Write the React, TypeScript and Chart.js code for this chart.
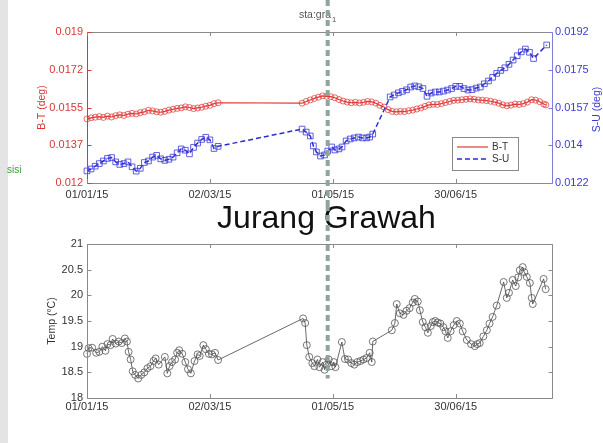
import React, { useEffect, useRef } from 'react';
import { Chart, registerables } from 'chart.js';

Chart.register(...registerables);

const FONT = '"Liberation Sans", Arial, Helvetica, sans-serif';

// ---------- axes / ticks ----------
const X_MAX = 227;
const X_TICK_DAYS = [0, 60, 120, 180];
const X_TICK_LABELS = ['01/01/15', '02/03/15', '01/05/15', '30/06/15'];
const MARKER_DAY = 117.5;
const MARKER_END_TEMP = 18.38;

const BT_MIN = 0.012;
const BT_MAX = 0.019;
const BT_TICKS = [0.012, 0.01375, 0.0155, 0.01725, 0.019];
const BT_TICK_LABELS = ['0.012', '0.0137', '0.0155', '0.0172', '0.019'];

const SU_MIN = 0.0122;
const SU_MAX = 0.0192;
const SU_TICKS = [0.0122, 0.01395, 0.0157, 0.01745, 0.0192];
const SU_TICK_LABELS = ['0.0122', '0.014', '0.0157', '0.0175', '0.0192'];

const TEMP_MIN = 18;
const TEMP_MAX = 21;
const TEMP_TICKS = [18, 18.5, 19, 19.5, 20, 20.5, 21];
const TEMP_TICK_LABELS = ['18', '18.5', '19', '19.5', '20', '20.5', '21'];

// ---------- series ----------
const BT_DAYS = [
  0, 2, 4, 6, 8, 10, 12, 14, 16, 18, 20, 22, 24, 26, 28, 30, 32, 34, 36, 38, 40, 42, 44, 46, 48, 50, 52, 54, 56, 58, 60, 62, 64,
  105, 107, 109, 111, 113, 115, 117, 119, 121, 123, 125, 127, 129, 131, 133, 135, 137, 139, 141, 143, 145, 147, 149, 151, 153,
  155, 157, 159, 161, 163, 165, 167, 169, 171, 173, 175, 177, 179, 181, 183, 185, 187, 189, 191, 193, 195, 197, 199, 201, 203,
  205, 207, 209, 211, 213, 215, 217, 219, 221, 223, 224,
];
const BT_VALUES = [
  0.01497, 0.01502, 0.01505, 0.01508, 0.01504, 0.0151, 0.01506, 0.01512, 0.01516, 0.01513, 0.01519, 0.01523, 0.0152, 0.01526,
  0.0153, 0.01537, 0.01534, 0.0153, 0.01528, 0.01532, 0.01538, 0.01542, 0.01546, 0.01548, 0.01553, 0.0155, 0.01545, 0.01548,
  0.01551, 0.01556, 0.0156, 0.01568, 0.01572,
  0.0157, 0.01578, 0.01585, 0.01592, 0.01598, 0.01604, 0.01602, 0.016, 0.01595, 0.01587, 0.0158, 0.01575, 0.01572, 0.01574,
  0.01571, 0.01574, 0.01578, 0.01576, 0.0157, 0.0156, 0.01552, 0.0154, 0.01532, 0.0153, 0.01532, 0.01531, 0.01535, 0.01538,
  0.01543, 0.01548, 0.01555, 0.01562, 0.01565, 0.01564, 0.01568, 0.01573, 0.01578, 0.01583, 0.01584, 0.01586, 0.01588,
  0.0159, 0.01588, 0.01585, 0.01584, 0.01582, 0.01579, 0.01575, 0.0157, 0.01562, 0.01558, 0.01561, 0.01566, 0.01564,
  0.01568, 0.01575, 0.01586, 0.01584, 0.01577, 0.01566, 0.01562,
];

const SU_DAYS = [
  0, 2, 4, 6, 8, 10, 12, 14, 16, 18, 20, 22, 24, 26, 28, 30, 32, 34, 36, 38, 40, 42, 44, 46, 48, 50, 52, 54, 56, 58, 60, 62, 64,
  105, 107, 109, 110.5, 112, 114, 116, 117.5, 119.5, 121, 123, 124.5, 126.5, 128.5, 130.5, 132.5, 134.5, 136.5, 138, 139.5,
  148, 150, 152, 154, 156, 158, 160, 162, 164, 166, 168, 170, 172, 174, 176, 178, 180, 182, 184, 186, 188, 190, 192, 194,
  196, 198, 200, 202, 204, 206, 208, 210, 212, 214, 216, 218, 224.4,
];
const SU_VALUES = [
  0.01276, 0.01285, 0.01298, 0.0131, 0.01322, 0.01334, 0.01338, 0.01318, 0.01306, 0.0131, 0.01318, 0.01295, 0.01275, 0.01288,
  0.01315, 0.01322, 0.0134, 0.01348, 0.01332, 0.01325, 0.0133, 0.0134, 0.0136, 0.01378, 0.01372, 0.01355, 0.01385, 0.01405,
  0.01422, 0.01432, 0.0142, 0.0138, 0.0139,
  0.0147, 0.01456, 0.01438, 0.01392, 0.01364, 0.01345, 0.0135, 0.01368, 0.01387, 0.01373, 0.01378, 0.01387, 0.01415,
  0.01424, 0.01429, 0.01433, 0.01429, 0.01429, 0.01433, 0.01447,
  0.01619, 0.01628, 0.01638, 0.01645, 0.01652, 0.01665, 0.0167, 0.01666, 0.01658, 0.01622, 0.01637, 0.01642, 0.01642,
  0.01646, 0.01651, 0.01658, 0.01668, 0.01668, 0.01658, 0.01651, 0.01653, 0.0166, 0.01665, 0.0168, 0.01693, 0.0171,
  0.01728, 0.01742, 0.01754, 0.0177, 0.0179, 0.0181, 0.01828, 0.01841, 0.01826, 0.01797, 0.0186,
];

const TEMP_DAYS = [
  0, 0.8, 2.5, 4.5, 6, 7.5, 9, 10, 11.5, 12.5, 14, 15.5, 17, 18.5, 19.5, 20.3, 21.3, 22.3, 23.5, 25, 26.5, 28, 29.5, 31, 32.5,
  33.5, 35, 38, 39.2, 40.3, 41.5, 43, 44, 45, 46.5, 48, 49.3, 50.7, 52.5, 54, 55, 56.8, 58, 59.5, 61, 62.5, 64,
  105.5, 106.5, 107.3, 108.5, 110, 111, 112.5, 113.5, 115, 116, 117, 118, 119.3, 120.5, 121.3, 124.4, 125.9, 127.5, 129,
  130.5, 132, 133.5, 135, 136.5, 138, 139, 139.5, 148.8, 150.3, 151.2, 152.7, 154.5, 156, 157.5, 159, 160, 161.5, 162.5,
  163.9, 165.2, 166.4, 167.8, 168.8, 170, 171.2, 172.5, 174, 175, 176.1, 177.5, 179, 180.5, 182, 183.4, 185.4, 187.5, 189.3,
  190.5, 191.7, 193.5, 195.2, 196.5, 198, 200, 203.4, 204.9, 206, 207.8, 209.3, 210.5, 211.3, 212.7, 213.5, 214.7, 216.2,
  217.1, 217.6, 222.9, 223.9,
];
const TEMP_VALUES = [
  18.86, 18.97, 18.98, 18.88, 18.9, 19.0, 18.92, 19.05, 19.03, 19.15, 19.06, 19.1, 19.07, 19.16, 19.1, 18.9, 18.75, 18.52,
  18.45, 18.38, 18.45, 18.5, 18.58, 18.62, 18.72, 18.77, 18.65, 18.8, 18.48, 18.62, 18.7, 18.75, 18.88, 18.93, 18.86, 18.7,
  18.56, 18.48, 18.72, 18.85, 18.82, 19.03, 18.95, 18.86, 18.85, 18.88, 18.74,
  19.55, 19.46, 19.03, 18.8, 18.68, 18.62, 18.75, 18.6, 18.7, 18.55, 18.65, 18.75, 18.62, 18.7, 18.6, 19.09, 18.76, 18.75,
  18.68, 18.65, 18.7, 18.72, 18.75, 18.78, 18.88, 18.7, 19.1, 19.32, 19.46, 19.83, 19.65, 19.62, 19.7, 19.75, 19.86, 19.93,
  19.88, 19.71, 19.48, 19.38, 19.27, 19.4, 19.48, 19.5, 19.47, 19.45, 19.38, 19.3, 19.17, 19.3, 19.42, 19.5, 19.45, 19.3,
  19.13, 19.05, 19.01, 19.05, 19.07, 19.2, 19.32, 19.45, 19.58, 19.8, 20.26, 19.95, 20.05, 20.3, 20.18, 20.35, 20.49, 20.55,
  20.45, 20.36, 20.24, 19.95, 19.83, 20.32, 20.12,
];

// ---------- styles ----------
const RED = '#e03a3a';
const RED_TEXT = '#d63838';
const BLUE = '#2b2bd4';
const BLUE_TEXT = '#3b3bd6';
const BLUE_AXIS = '#7f7fd8';
const FRAME_GRAY = '#8a8a8a';
const TEXT_DARK = '#333333';
const MARKER_COLOR = '#8fa59b';

function pts(days: number[], vals: number[]) {
  return days.map((d, i) => ({ x: d, y: vals[i] }));
}

const px = (v: number) => Math.round(v) + 0.5;

function seg(ctx: CanvasRenderingContext2D, x1: number, y1: number, x2: number, y2: number, color: string) {
  ctx.strokeStyle = color;
  ctx.beginPath();
  ctx.moveTo(x1, y1);
  ctx.lineTo(x2, y2);
  ctx.stroke();
}

function drawMarkerLine(chart: any, yEnd: number) {
  const { ctx } = chart;
  const xp = chart.scales.x.getPixelForValue(MARKER_DAY);
  ctx.save();
  ctx.strokeStyle = MARKER_COLOR;
  ctx.lineWidth = 4;
  ctx.setLineDash([6, 4]);
  ctx.beginPath();
  ctx.moveTo(xp, 0);
  ctx.lineTo(xp, yEnd);
  ctx.stroke();
  ctx.restore();
}

function xTicksInside(chart: any, color: string) {
  const { ctx, chartArea: a } = chart;
  const sx = chart.scales.x;
  X_TICK_DAYS.forEach((d) => {
    const x = px(sx.getPixelForValue(d));
    seg(ctx, x, a.bottom, x, a.bottom - 4, color);
    seg(ctx, x, a.top, x, a.top + 4, color);
  });
}

const tickFont = { family: FONT, size: 11 };

function fixedTicks(values: number[]) {
  return (s: any) => {
    s.ticks = values.map((v) => ({ value: v }));
  };
}

const topDecor = {
  id: 'topDecor',
  afterDraw(chart: any) {
    const { ctx, chartArea: a, scales } = chart;
    ctx.save();
    ctx.lineWidth = 1;
    const L = px(a.left), R = px(a.right), T = px(a.top), B = px(a.bottom);
    seg(ctx, L, T, R, T, FRAME_GRAY);
    seg(ctx, L, B, R, B, FRAME_GRAY);
    seg(ctx, L, T, L, B, RED_TEXT);
    seg(ctx, R, T, R, B, BLUE_AXIS);
    xTicksInside(chart, FRAME_GRAY);
    BT_TICKS.forEach((v) => {
      const y = px(scales.yL.getPixelForValue(v));
      seg(ctx, L, y, L + 4, y, RED_TEXT);
    });
    SU_TICKS.forEach((v) => {
      const y = px(scales.yR.getPixelForValue(v));
      seg(ctx, R, y, R - 4, y, BLUE_AXIS);
    });

    // right axis title (reads bottom to top like the reference)
    ctx.save();
    ctx.translate(597, (a.top + a.bottom) / 2 + 2);
    ctx.rotate(-Math.PI / 2);
    ctx.fillStyle = BLUE_TEXT;
    ctx.font = `10.5px ${FONT}`;
    ctx.textAlign = 'center';
    ctx.textBaseline = 'middle';
    ctx.fillText('S-U (deg)', 0, 0);
    ctx.restore();

    // legend box
    const bx = a.right - 100, by = a.bottom - 46, bw = 66, bh = 33;
    ctx.fillStyle = '#ffffff';
    ctx.fillRect(bx, by, bw, bh);
    ctx.strokeStyle = FRAME_GRAY;
    ctx.strokeRect(px(bx), px(by), bw, bh);
    chart.data.datasets.forEach((ds: any, i: number) => {
      const ly = by + 10 + i * 12;
      ctx.save();
      ctx.strokeStyle = ds.borderColor;
      ctx.lineWidth = ds.borderWidth;
      ctx.setLineDash(ds.borderDash || []);
      ctx.beginPath();
      ctx.moveTo(bx + 5, ly);
      ctx.lineTo(bx + 36, ly);
      ctx.stroke();
      ctx.restore();
      ctx.fillStyle = TEXT_DARK;
      ctx.font = `10px ${FONT}`;
      ctx.textAlign = 'left';
      ctx.textBaseline = 'middle';
      ctx.fillText(ds.label, bx + 40, ly + 0.5);
    });

    // station label
    ctx.fillStyle = '#555555';
    ctx.font = `10.5px ${FONT}`;
    ctx.textAlign = 'right';
    ctx.textBaseline = 'alphabetic';
    ctx.fillText('sta:gra', 331, 18);
    ctx.font = `7.5px ${FONT}`;
    ctx.textAlign = 'left';
    ctx.fillText('1', 332, 22);
    ctx.restore();

    drawMarkerLine(chart, chart.height);
  },
};

const bottomDecor = {
  id: 'bottomDecor',
  afterDraw(chart: any) {
    const { ctx, chartArea: a, scales } = chart;
    ctx.save();
    ctx.lineWidth = 1;
    const L = px(a.left), R = px(a.right), T = px(a.top), B = px(a.bottom);
    seg(ctx, L, T, R, T, FRAME_GRAY);
    seg(ctx, L, B, R, B, FRAME_GRAY);
    seg(ctx, L, T, L, B, FRAME_GRAY);
    seg(ctx, R, T, R, B, FRAME_GRAY);
    xTicksInside(chart, FRAME_GRAY);
    TEMP_TICKS.forEach((v) => {
      const y = px(scales.y.getPixelForValue(v));
      seg(ctx, L, y, L + 4, y, FRAME_GRAY);
      seg(ctx, R, y, R - 4, y, FRAME_GRAY);
    });

    ctx.fillStyle = '#111111';
    ctx.font = `32px ${FONT}`;
    ctx.textAlign = 'center';
    ctx.textBaseline = 'alphabetic';
    ctx.fillText('Jurang Grawah', 326.5, 23);
    ctx.restore();

    drawMarkerLine(chart, scales.y.getPixelForValue(MARKER_END_TEMP));
  },
};

function topConfig(): any {
  return {
    type: 'line',
    data: {
      datasets: [
        {
          label: 'B-T',
          data: pts(BT_DAYS, BT_VALUES),
          yAxisID: 'yL',
          borderColor: RED,
          borderWidth: 1.2,
          pointRadius: 3,
          pointStyle: 'circle',
          pointBorderColor: 'rgba(224,58,58,0.75)',
          pointBackgroundColor: 'rgba(0,0,0,0)',
          pointBorderWidth: 1,
          tension: 0,
          clip: false,
        },
        {
          label: 'S-U',
          data: pts(SU_DAYS, SU_VALUES),
          yAxisID: 'yR',
          borderColor: BLUE,
          borderWidth: 1.5,
          borderDash: [5, 3],
          pointRadius: 4,
          pointStyle: 'rect',
          pointBorderColor: 'rgba(58,58,216,0.8)',
          pointBackgroundColor: 'rgba(0,0,0,0)',
          pointBorderWidth: 1,
          tension: 0,
          clip: false,
        },
      ],
    },
    options: {
      animation: false,
      responsive: true,
      maintainAspectRatio: false,
      events: [],
      layout: { autoPadding: false, padding: { top: 32, left: 0, right: 0, bottom: 0 } },
      plugins: { legend: { display: false }, tooltip: { enabled: false }, title: { display: false } },
      scales: {
        x: {
          type: 'linear',
          min: 0,
          max: X_MAX,
          afterBuildTicks: fixedTicks(X_TICK_DAYS),
          afterFit: (s: any) => { s.height = 22; },
          grid: { display: false, drawTicks: false },
          border: { display: false },
          ticks: {
            autoSkip: false,
            maxRotation: 0,
            padding: 5,
            color: TEXT_DARK,
            font: tickFont,
            callback: (_v: any, i: number) => X_TICK_LABELS[i],
          },
        },
        yL: {
          type: 'linear',
          position: 'left',
          min: BT_MIN,
          max: BT_MAX,
          afterBuildTicks: fixedTicks(BT_TICKS),
          afterFit: (s: any) => { s.width = 87; },
          grid: { display: false, drawTicks: false },
          border: { display: false },
          ticks: {
            autoSkip: false,
            padding: 4,
            color: RED_TEXT,
            font: tickFont,
            callback: (_v: any, i: number) => BT_TICK_LABELS[i],
          },
          title: {
            display: true,
            text: 'B-T (deg)',
            color: RED_TEXT,
            font: { family: FONT, size: 10.5 },
            padding: { top: 36, bottom: 0 },
          },
        },
        yR: {
          type: 'linear',
          position: 'right',
          min: SU_MIN,
          max: SU_MAX,
          afterBuildTicks: fixedTicks(SU_TICKS),
          afterFit: (s: any) => { s.width = 51; },
          grid: { display: false, drawTicks: false },
          border: { display: false },
          ticks: {
            autoSkip: false,
            padding: 3,
            color: BLUE_TEXT,
            font: tickFont,
            callback: (_v: any, i: number) => SU_TICK_LABELS[i],
          },
        },
      },
    },
    plugins: [topDecor],
  };
}

function bottomConfig(): any {
  return {
    type: 'line',
    data: {
      datasets: [
        {
          label: 'Temp',
          data: pts(TEMP_DAYS, TEMP_VALUES),
          borderColor: '#444444',
          borderWidth: 0.8,
          pointRadius: 3.5,
          pointStyle: 'circle',
          pointBorderColor: '#555555',
          pointBackgroundColor: 'rgba(0,0,0,0)',
          pointBorderWidth: 0.8,
          tension: 0,
          clip: false,
        },
      ],
    },
    options: {
      animation: false,
      responsive: true,
      maintainAspectRatio: false,
      events: [],
      layout: { autoPadding: false, padding: { top: 39, left: 0, right: 51, bottom: 0 } },
      plugins: { legend: { display: false }, tooltip: { enabled: false }, title: { display: false } },
      scales: {
        x: {
          type: 'linear',
          min: 0,
          max: X_MAX,
          afterBuildTicks: fixedTicks(X_TICK_DAYS),
          afterFit: (s: any) => { s.height = 45; },
          grid: { display: false, drawTicks: false },
          border: { display: false },
          ticks: {
            autoSkip: false,
            maxRotation: 0,
            padding: 2,
            color: TEXT_DARK,
            font: tickFont,
            callback: (_v: any, i: number) => X_TICK_LABELS[i],
          },
        },
        y: {
          type: 'linear',
          position: 'left',
          min: TEMP_MIN,
          max: TEMP_MAX,
          afterBuildTicks: fixedTicks(TEMP_TICKS),
          afterFit: (s: any) => { s.width = 87; },
          grid: { display: false, drawTicks: false },
          border: { display: false },
          ticks: {
            autoSkip: false,
            padding: 4,
            color: TEXT_DARK,
            font: tickFont,
            callback: (_v: any, i: number) => TEMP_TICK_LABELS[i],
          },
          title: {
            display: true,
            text: 'Temp (°C)',
            color: TEXT_DARK,
            font: { family: FONT, size: 10.5 },
            padding: { top: 46, bottom: 0 },
          },
        },
      },
    },
    plugins: [bottomDecor],
  };
}

export default function App() {
  const topRef = useRef<HTMLCanvasElement>(null);
  const botRef = useRef<HTMLCanvasElement>(null);

  useEffect(() => {
    const top = new Chart(topRef.current as HTMLCanvasElement, topConfig());
    const bot = new Chart(botRef.current as HTMLCanvasElement, bottomConfig());
    return () => {
      top.destroy();
      bot.destroy();
    };
  }, []);

  return (
    <div
      style={{
        position: 'fixed',
        left: 0,
        top: 0,
        width: 603,
        height: 443,
        background: '#ffffff',
        overflow: 'hidden',
      }}
    >
      <div style={{ position: 'absolute', left: 0, top: 0, width: 603, height: 205 }}>
        <canvas ref={topRef} />
      </div>
      <div style={{ position: 'absolute', left: 0, top: 205, width: 603, height: 238 }}>
        <canvas ref={botRef} />
      </div>
      <div
        style={{ position: 'absolute', left: 0, top: 0, width: 8, height: 443, background: '#e4e4e4' }}
      />
      <div
        style={{
          position: 'absolute',
          left: 7,
          top: 164,
          fontFamily: FONT,
          fontSize: 10,
          lineHeight: '12px',
          color: '#3b9a3b',
        }}
      >
        sisi
      </div>
    </div>
  );
}
